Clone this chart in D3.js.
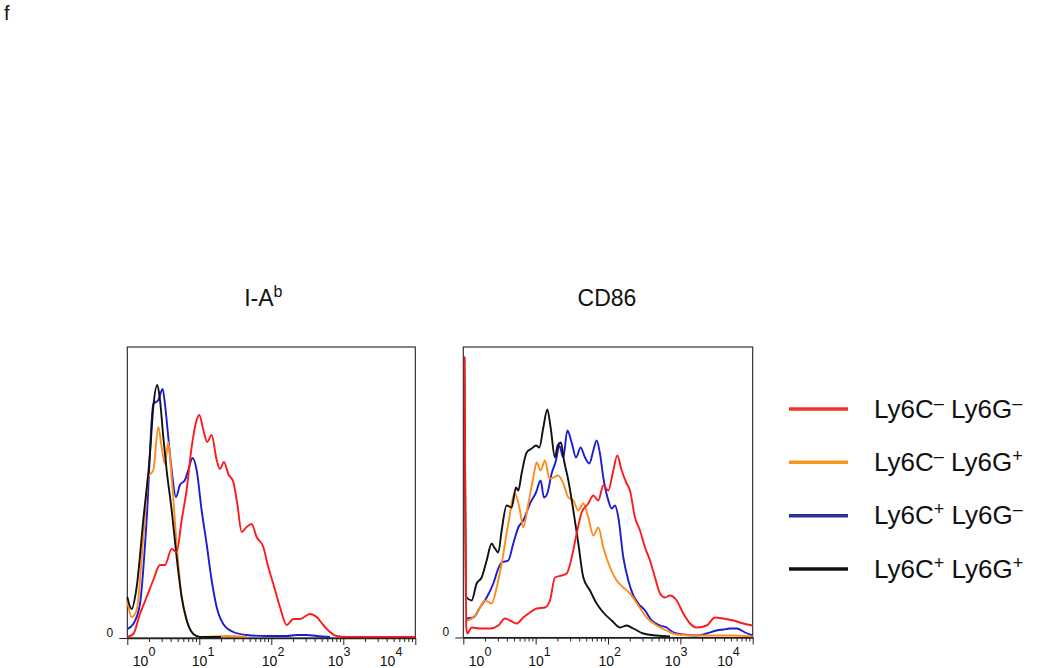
<!DOCTYPE html>
<html><head><meta charset="utf-8">
<script src="https://cdn.jsdelivr.net/npm/d3@7"></script>
<style>body{margin:0;background:#fff;} svg{display:block;font-family:"Liberation Sans",Arial,sans-serif;}</style>
</head><body><svg id="c" width="1050" height="668"></svg>
<script>
// ---------- data ----------
const figureLetter = "f";
const panelTitles = ["I-A", "CD86"];
const panelTitleSups = ["b", ""];
const legendParts = [
  ["Ly6C", "–", "Ly6G", "–"],
  ["Ly6C", "–", "Ly6G", "+"],
  ["Ly6C", "+", "Ly6G", "–"],
  ["Ly6C", "+", "Ly6G", "+"]
];
const tickExponents = [0, 1, 2, 3, 4];
const yTickValues = [0];
// each point: [log10(fluorescence), event count]
const iabRed = [[0,0],[0.083,3],[0.176,23],[0.269,40],[0.361,57],[0.454,72],[0.523,72],[0.616,88],[0.685,85],[0.755,117],[0.824,147],[0.894,190],[0.963,217],[1.0,222],[1.056,207],[1.111,195],[1.171,202],[1.241,177],[1.287,168],[1.343,175],[1.403,163],[1.472,155],[1.528,133],[1.588,105],[1.657,110],[1.727,113],[1.796,100],[1.889,90],[1.958,70],[2.028,53],[2.12,30],[2.213,12],[2.306,18],[2.398,18],[2.537,23],[2.63,20],[2.722,12],[2.815,5],[2.907,1],[3.046,0],[4,0]];
const iabOrange = [[0,37],[0.06,20],[0.13,27],[0.222,100],[0.292,160],[0.361,167],[0.431,210],[0.477,190],[0.523,173],[0.569,195],[0.616,160],[0.685,93],[0.755,40],[0.824,17],[0.917,3],[1.009,0],[1.38,1],[1.657,0]];
const iabBlue = [[0,8],[0.083,13],[0.176,33],[0.269,117],[0.361,233],[0.431,237],[0.491,248],[0.523,233],[0.569,200],[0.616,167],[0.676,140],[0.731,152],[0.801,157],[0.847,167],[0.907,179],[0.963,167],[1.032,127],[1.102,93],[1.171,57],[1.241,30],[1.333,13],[1.472,5],[1.657,2],[1.935,1],[2.213,1],[2.352,2],[2.491,2],[2.63,1],[2.815,0]];
const iabBlack = [[0,40],[0.06,28],[0.13,50],[0.222,117],[0.315,183],[0.361,230],[0.417,252],[0.454,237],[0.5,200],[0.546,167],[0.616,127],[0.685,80],[0.755,40],[0.824,17],[0.917,3],[1.009,0],[1.3,0]];

const cd86Red = [[0,279],[0.015,279],[0.04,10],[0.055,3],[0.115,9],[0.23,8],[0.369,8],[0.484,11],[0.576,18],[0.645,16],[0.737,13],[0.829,19],[0.922,24],[1.014,28],[1.129,29],[1.198,36],[1.267,59],[1.359,61],[1.429,63],[1.498,79],[1.567,103],[1.636,124],[1.728,133],[1.797,141],[1.866,136],[1.935,151],[2.005,146],[2.065,163],[2.129,181],[2.189,166],[2.258,153],[2.304,146],[2.373,119],[2.442,106],[2.512,89],[2.581,76],[2.65,59],[2.719,43],[2.788,39],[2.857,41],[2.949,36],[3.041,23],[3.134,13],[3.226,9],[3.364,11],[3.479,19],[3.594,18],[3.733,16],[3.871,13],[4,11]];
const cd86Orange = [[0.046,16],[0.138,19],[0.23,29],[0.3,36],[0.392,33],[0.461,49],[0.53,73],[0.622,113],[0.714,143],[0.783,126],[0.829,109],[0.899,133],[0.968,159],[1.014,174],[1.069,166],[1.129,176],[1.189,158],[1.244,159],[1.313,161],[1.382,153],[1.452,139],[1.521,136],[1.59,126],[1.659,133],[1.728,119],[1.797,101],[1.866,109],[1.935,89],[2.028,69],[2.12,56],[2.212,49],[2.304,43],[2.419,31],[2.535,19],[2.673,11],[2.811,6],[2.949,2],[3.226,1],[3.687,1],[4,0]];
const cd86Blue = [[0.046,18],[0.138,19],[0.23,29],[0.323,39],[0.415,53],[0.484,68],[0.53,74],[0.622,76],[0.691,93],[0.76,109],[0.829,116],[0.922,133],[1.005,144],[1.069,156],[1.115,139],[1.161,143],[1.221,163],[1.281,176],[1.327,191],[1.382,179],[1.438,206],[1.498,194],[1.558,179],[1.622,189],[1.682,179],[1.742,173],[1.797,186],[1.843,196],[1.889,183],[1.935,159],[2.005,136],[2.051,128],[2.097,131],[2.143,119],[2.212,79],[2.281,56],[2.35,41],[2.419,33],[2.512,26],[2.604,16],[2.719,11],[2.811,9],[2.903,4],[3.041,2],[3.226,1],[3.364,3],[3.502,6],[3.594,7],[3.687,8],[3.779,8],[3.894,4],[4,1]];
const cd86Black = [[0,279],[0.015,279],[0.035,40],[0.046,39],[0.115,36],[0.184,53],[0.253,59],[0.323,76],[0.392,93],[0.429,89],[0.484,84],[0.53,106],[0.599,131],[0.668,129],[0.728,149],[0.76,146],[0.806,163],[0.876,184],[0.945,188],[1.005,191],[1.051,189],[1.106,209],[1.161,227],[1.207,209],[1.267,179],[1.304,191],[1.35,194],[1.392,176],[1.452,156],[1.521,126],[1.59,93],[1.659,59],[1.751,46],[1.843,33],[1.935,24],[2.051,16],[2.166,9],[2.258,11],[2.35,8],[2.488,3],[2.673,1],[2.857,0]];

// ---------- styles / layout ----------
const curveColors = {red:"#ff1a1a", orange:"#ff8c1a", blue:"#1c1cd6", black:"#111111"};
const legendColors = ["#ee3324", "#f7941d", "#2e3192", "#111111"];
const panels = [
  {title:0, x0:127.3, x1:415.3, top:347, base:637, titleDx:-8,
   series:[["blue",iabBlue],["orange",iabOrange],["black",iabBlack],["red",iabRed]]},
  {title:1, x0:463.3, x1:752.7, top:347, base:636.5, titleDx:-1,
   series:[["blue",cd86Blue],["orange",cd86Orange],["black",cd86Black],["red",cd86Red]]}
];
const labelDx = [5, -8, -10, -16, -36];

const svg = d3.select("#c");

svg.append("text").attr("x", 4).attr("y", 20).attr("font-size", 20).attr("fill", "#111").text(figureLetter);

panels.forEach(p => {
  const x = d3.scaleLog().domain([1, 1e4]).range([p.x0, p.x1]);
  const yMax = p.base - p.top;
  const y = d3.scaleLinear().domain([0, yMax]).range([p.base, p.top]);
  const g = svg.append("g");

  // frame
  g.append("rect").attr("x", p.x0).attr("y", p.top).attr("width", p.x1 - p.x0).attr("height", p.base + 1 - p.top)
    .attr("fill", "none").attr("stroke", "#222").attr("stroke-width", 1.1);

  // curves
  const line = d3.line().x(d => x(Math.pow(10, d[0]))).y(d => y(d[1])).curve(d3.curveMonotoneX);
  p.series.forEach(([c, data]) => {
    g.append("path").attr("d", line(data)).attr("fill", "none")
      .attr("stroke", curveColors[c]).attr("stroke-width", 1.9).attr("stroke-linejoin", "round");
  });

  // x axis: major and minor ticks
  const majors = tickExponents.map(e => Math.pow(10, e));
  const minors = [];
  tickExponents.slice(0, -1).forEach(e => { for (let k = 2; k <= 9; k++) minors.push(k * Math.pow(10, e)); });
  const axY = p.base + 1;
  const minorAxis = g.append("g").attr("transform", `translate(0,${axY})`)
    .call(d3.axisBottom(x).tickValues(minors).tickSize(4).tickFormat(""));
  minorAxis.select(".domain").remove();
  minorAxis.selectAll("line").attr("stroke", "#222");
  const majorAxis = g.append("g").attr("transform", `translate(0,${axY})`)
    .call(d3.axisBottom(x).tickValues(majors).tickSize(7).tickSizeOuter(0).tickFormat(""));
  majorAxis.select(".domain").attr("stroke", "#222").attr("stroke-width", 1.4);
  majorAxis.selectAll("line").attr("stroke", "#222");
  majorAxis.selectAll(".tick").each(function(d, i) {
    const t = d3.select(this).append("text").attr("x", labelDx[i]).attr("y", 28)
      .attr("fill", "#111").attr("text-anchor", "start").attr("font-size", 14);
    t.append("tspan").text("10");
    t.append("tspan").attr("dy", -10).attr("font-size", 12.5).text(String(tickExponents[i]));
  });

  // y axis
  const yAxis = g.append("g").attr("transform", `translate(${p.x0},0)`)
    .call(d3.axisLeft(y).tickValues(yTickValues).tickSize(8).tickPadding(6).tickFormat(d3.format("d")));
  yAxis.select(".domain").remove();
  yAxis.selectAll("line").attr("stroke", "#222").attr("transform", "translate(0,1)");
  yAxis.selectAll("text").attr("font-size", 12).attr("fill", "#111").attr("dy", "-0.05em")
    .attr("font-family", "Liberation Sans, Arial, sans-serif");

  // title
  const tt = svg.append("text").attr("x", (p.x0 + p.x1) / 2 + p.titleDx).attr("y", 306)
    .attr("text-anchor", "middle").attr("font-size", 23).attr("fill", "#111");
  tt.append("tspan").text(panelTitles[p.title]);
  if (panelTitleSups[p.title]) tt.append("tspan").attr("dy", -9).attr("font-size", 16).text(panelTitleSups[p.title]);
});

// legend
const lg = svg.append("g");
const legendY = d3.scalePoint().domain(d3.range(legendParts.length)).range([409, 569]);
legendParts.forEach((parts, i) => {
  const yy = legendY(i);
  lg.append("line").attr("x1", 789).attr("x2", 848).attr("y1", yy).attr("y2", yy)
    .attr("stroke", legendColors[i]).attr("stroke-width", 3.5);
  const t = lg.append("text").attr("x", 874).attr("y", yy + 8.5).attr("font-size", 26).attr("fill", "#111");
  t.append("tspan").text(parts[0]);
  t.append("tspan").attr("dy", -9).attr("font-size", 18).text(parts[1]);
  t.append("tspan").attr("dy", 9).text(" " + parts[2]);
  t.append("tspan").attr("dy", -9).attr("font-size", 18).text(parts[3]);
});
</script></body></html>
